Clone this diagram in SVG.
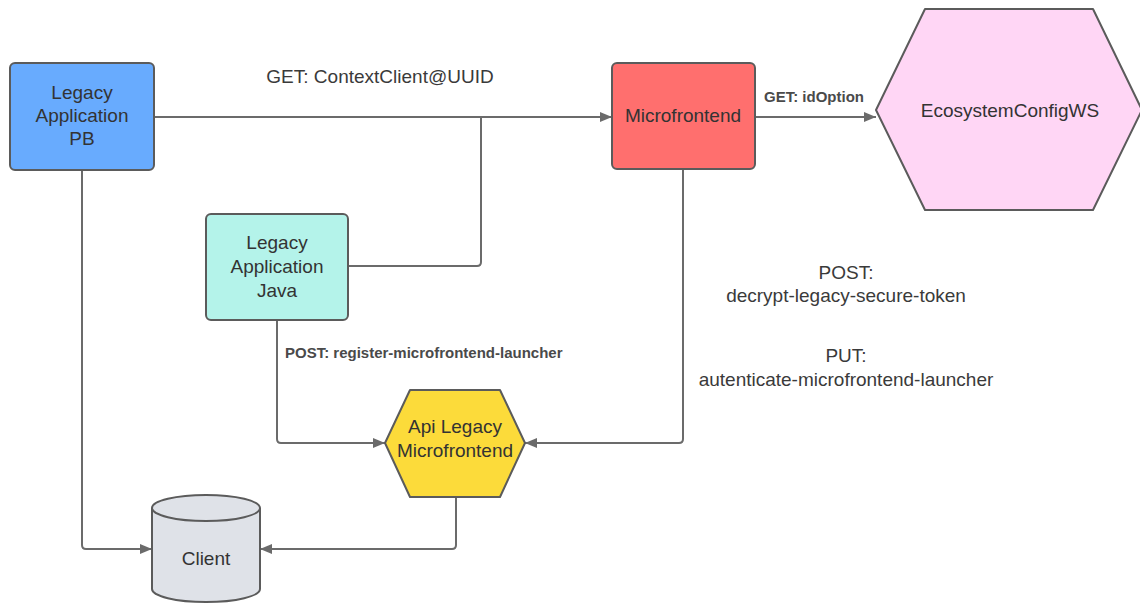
<svg xmlns="http://www.w3.org/2000/svg" width="1140" height="604" viewBox="0 0 1140 604">
<style>
.node{stroke:#5b5b5b;stroke-width:2;stroke-linejoin:round}
.t{font-family:"Liberation Sans",Arial,sans-serif;font-size:19px;fill:#333;text-anchor:middle}
.lb{font-family:"Liberation Sans",Arial,sans-serif;font-size:19px;fill:#3a3a3a;text-anchor:middle}
.sb{font-family:"Liberation Sans",Arial,sans-serif;font-size:15px;font-weight:bold;fill:#4a4a4a}
.c{fill:none;stroke:#6b6b6b;stroke-width:2;stroke-linejoin:round}
</style>
<defs>
<marker id="ah" viewBox="0 0 12 10" refX="12" refY="5" markerWidth="12" markerHeight="10" markerUnits="userSpaceOnUse" orient="auto">
<path d="M0,0 L12,5 L0,10 Z" fill="#6b6b6b"/>
</marker>
</defs>
<rect width="1140" height="604" fill="#fff"/>
<g id="connectors">
<path class="c" d="M154,117 L612,117" marker-end="url(#ah)"/>
<path class="c" d="M348,266 L477,266 Q481,266 481,262 L481,117"/>
<path class="c" d="M755,117 L876,117" marker-end="url(#ah)"/>
<path class="c" d="M683,169 L683,439 Q683,443 679,443 L525,443" marker-end="url(#ah)"/>
<path class="c" d="M277,320 L277,439 Q277,443 281,443 L385,443" marker-end="url(#ah)"/>
<path class="c" d="M82,170 L82,545 Q82,549 86,549 L152,549" marker-end="url(#ah)"/>
<path class="c" d="M456,497 L456,545 Q456,549 452,549 L260,549" marker-end="url(#ah)"/>
<text class="lb" x="380" y="83">GET: ContextClient@UUID</text>
<text class="sb" x="764" y="102">GET: idOption</text>
<text class="sb" x="285" y="358">POST: register-microfrontend-launcher</text>
<text class="lb" x="846" y="279">POST:</text>
<text class="lb" x="846" y="302">decrypt-legacy-secure-token</text>
<text class="lb" x="846" y="362">PUT:</text>
<text class="lb" x="846" y="386">autenticate-microfrontend-launcher</text>
</g>
<g id="legacy-pb">
<rect class="node" x="10" y="63" width="144" height="107" rx="5" fill="#68abfe"/>
<text class="t" x="82" y="99">Legacy</text>
<text class="t" x="82" y="122">Application</text>
<text class="t" x="82" y="145">PB</text>
</g>
<g id="microfrontend">
<rect class="node" x="612" y="63" width="143" height="106" rx="5" fill="#ff6f6e"/>
<text class="t" x="683" y="122">Microfrontend</text>
</g>
<g id="ecosystem">
<path class="node" d="M925,9 L1093,9 L1142,110 L1093,210 L925,210 L876,110 Z" fill="#ffd6f5"/>
<text class="t" x="1010" y="117">EcosystemConfigWS</text>
</g>
<g id="legacy-java">
<rect class="node" x="206" y="214" width="142" height="106" rx="5" fill="#b4f3ea"/>
<text class="t" x="277" y="249">Legacy</text>
<text class="t" x="277" y="273">Application</text>
<text class="t" x="277" y="297">Java</text>
</g>
<g id="api-legacy">
<path class="node" d="M410,390 L500,390 L525,443 L500,497 L410,497 L385,443 Z" fill="#fcdb3a"/>
<text class="t" x="455" y="433">Api Legacy</text>
<text class="t" x="455" y="457">Microfrontend</text>
</g>
<g id="client">
<path class="node" d="M152,508 L152,589 A54,13 0 0 0 260,589 L260,508" fill="#dfe2e8"/>
<ellipse class="node" cx="206" cy="508" rx="54" ry="13" fill="#dfe2e8"/>
<text class="t" x="206" y="565">Client</text>
</g>
</svg>
